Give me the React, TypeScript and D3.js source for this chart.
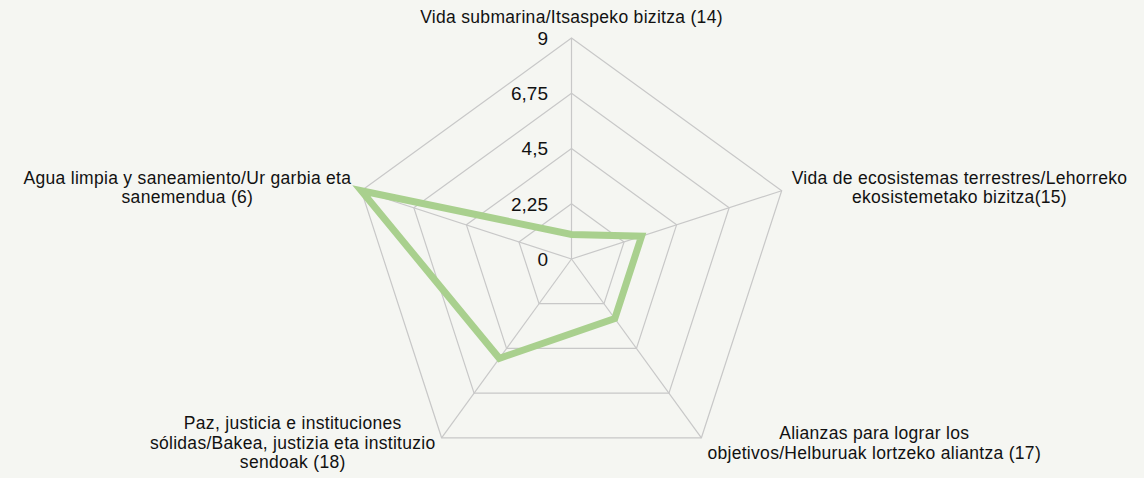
import React, { useEffect, useRef } from "react";
import * as d3 from "d3";

const categories: string[][] = [
  ["Vida submarina/Itsaspeko bizitza (14)"],
  ["Vida de ecosistemas terrestres/Lehorreko", "ekosistemetako bizitza(15)"],
  ["Alianzas para lograr los", "objetivos/Helburuak lortzeko aliantza (17)"],
  ["Paz, justicia e instituciones", "sólidas/Bakea, justizia eta instituzio", "sendoak (18)"],
  ["Agua limpia y saneamiento/Ur garbia eta", "sanemendua (6)"],
];
const values: number[] = [1, 3, 3, 5, 9];
const tickValues: number[] = [0, 2.25, 4.5, 6.75, 9];
const tickLabels: string[] = ["0", "2,25", "4,5", "6,75", "9"];

const W = 1144;
const H = 478;
const CX = 571.5;
const CY = 259;
const R = 221;
const BG = "#f5f6f2";
const GRID = "#c8c8c8";
const LINE = "#a9d08e";
const FONT = "'Liberation Sans', Arial, sans-serif";

export default function App() {
  const ref = useRef<SVGSVGElement | null>(null);

  useEffect(() => {
    document.body.style.margin = "0";
    const svg = d3.select(ref.current);
    svg.selectAll("*").remove();

    const r = d3.scaleLinear().domain([0, 9]).range([0, R]);
    const n = categories.length;
    const angle = (i: number) => -Math.PI / 2 + (2 * Math.PI * i) / n;
    const pt = (i: number, v: number): [number, number] => [
      CX + r(v) * Math.cos(angle(i)),
      CY + r(v) * Math.sin(angle(i)),
    ];

    svg.append("rect").attr("width", W).attr("height", H).attr("fill", BG);

    const g = svg.append("g");
    tickValues.filter((t) => t > 0).forEach((t) => {
      const pts = d3.range(n).map((i) => pt(i, t));
      g.append("path")
        .attr("d", d3.line()(pts) + "Z")
        .attr("fill", "none")
        .attr("stroke", GRID)
        .attr("stroke-width", 1.2);
    });
    d3.range(n).forEach((i) => {
      const [x, y] = pt(i, 9);
      g.append("line")
        .attr("x1", CX).attr("y1", CY).attr("x2", x).attr("y2", y)
        .attr("stroke", GRID).attr("stroke-width", 1.2);
    });

    tickValues.forEach((t, k) => {
      g.append("text")
        .attr("x", CX - 23.5)
        .attr("y", CY - r(t))
        .attr("dy", "0.36em")
        .attr("text-anchor", "end")
        .attr("font-family", FONT)
        .attr("font-size", 19)
        .attr("fill", "#111")
        .text(tickLabels[k]);
    });

    const dpts = values.map((v, i) => pt(i, v));
    g.append("path")
      .attr("d", d3.line()(dpts) + "Z")
      .attr("fill", "none")
      .attr("stroke", LINE)
      .attr("stroke-width", 7)
      .attr("stroke-linejoin", "miter");

    categories.forEach((lines, i) => {
      const [vx, vy] = pt(i, 9);
      const lg = g.append("g");
      lines.forEach((l, j) => {
        lg.append("text")
          .attr("x", 0)
          .attr("y", j * 19.5)
          .attr("text-anchor", "middle")
          .attr("font-family", FONT)
          .attr("font-size", 17.5)
          .attr("letter-spacing", 0.3)
          .attr("fill", "#111")
          .text(l);
      });
      const bb = (lg.node() as SVGGElement).getBBox();
      const c = Math.cos(angle(i));
      let tx = 0, ty = 0;
      if (Math.abs(c) < 0.1) {
        tx = vx - (bb.x + bb.width / 2);
        ty = vy - 11 - (bb.y + bb.height);
      } else {
        const s = Math.sin(angle(i));
        const gap = s < 0 ? 10 : 6;
        const midY = s < 0 ? vy - 3 : vy + 5;
        if (c > 0) tx = vx + gap - bb.x;
        else tx = vx - gap - (bb.x + bb.width);
        ty = midY - (bb.y + bb.height / 2);
      }
      lg.attr("transform", `translate(${tx},${ty})`);
    });
  }, []);

  return <svg ref={ref} width={W} height={H} style={{ display: "block" }} />;
}
